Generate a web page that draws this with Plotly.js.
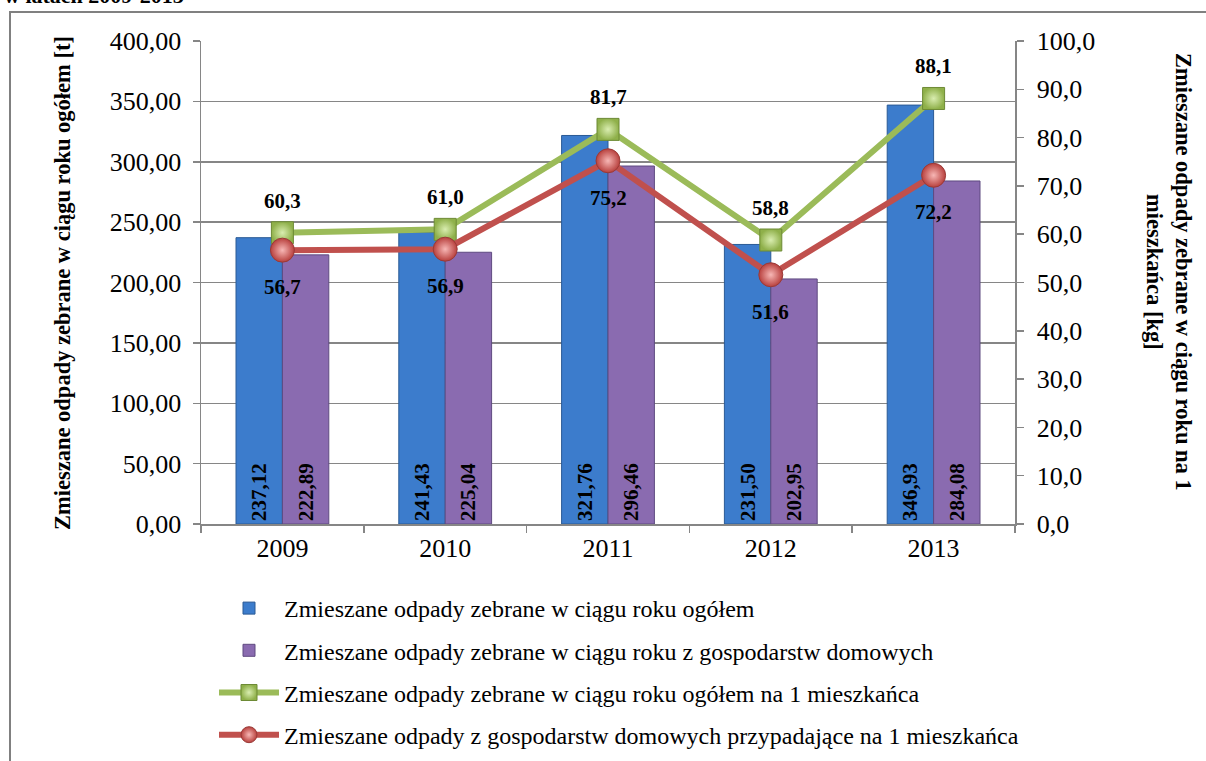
<!DOCTYPE html>
<html>
<head>
<meta charset="utf-8">
<script src="https://cdn.plot.ly/plotly-3.0.1.min.js"></script>
<style>html,body{margin:0;padding:0;background:#fff;}#chart{width:1206px;height:761px;}</style>
</head>
<body>
<div id="chart"></div>
<script>
const years = ['2009', '2010', '2011', '2012', '2013'];
const totalTonnes = [237.12, 241.43, 321.76, 231.50, 346.93];
const householdTonnes = [222.89, 225.04, 296.46, 202.95, 284.08];
const totalPerCapita = [60.3, 61.0, 81.7, 58.8, 88.1];
const householdPerCapita = [56.7, 56.9, 75.2, 51.6, 72.2];
const seriesNames = [
  'Zmieszane odpady zebrane w ciągu roku ogółem',
  'Zmieszane odpady zebrane w ciągu roku z gospodarstw domowych',
  'Zmieszane odpady zebrane w ciągu roku ogółem na 1 mieszkańca',
  'Zmieszane odpady z gospodarstw domowych przypadające na 1 mieszkańca'
];
const leftTitle = 'Zmieszane odpady zebrane w ciągu roku ogółem [t]';
const rightTitle = 'Zmieszane odpady zebrane w ciągu roku na 1<br>mieszkańca [kg]';
const cutTitle = 'w latach 2009-2013';

const FONT = "'Liberation Serif'";
const L = 201, R = 1015, T = 41, B = 524;
const W = 1206, H = 761;
const px2x = p => (p - L) / (R - L);
const px2y = p => (B - p) / (B - T);

const barText = {family: FONT, size: 21, color: '#000'};
const lblText = {family: FONT, size: 21, color: '#000'};
const fmt1 = v => v.toFixed(1).replace('.', ',');

const traces = [
  {
    type: 'bar', x: years, y: totalTonnes, name: seriesNames[0], legendgroup: 'a',
    marker: {color: '#3c7ccc', line: {color: '#2a5a95', width: 1}},
    texttemplate: '<b>%{y:.2f}</b>', textposition: 'inside', insidetextanchor: 'start',
    textangle: -90, constraintext: 'none', insidetextfont: barText, hoverinfo: 'skip'
  },
  {
    type: 'bar', x: years, y: householdTonnes, name: seriesNames[1], legendgroup: 'b',
    marker: {color: '#8a6bb0', line: {color: '#5f4a80', width: 1}},
    texttemplate: '<b>%{y:.2f}</b>', textposition: 'inside', insidetextanchor: 'start',
    textangle: -90, constraintext: 'none', insidetextfont: barText, hoverinfo: 'skip'
  },
  {
    type: 'scatter', mode: 'lines+markers', x: years, y: totalPerCapita, yaxis: 'y2',
    name: seriesNames[2], legendgroup: 'c',
    line: {color: '#9bbb59', width: 6},
    marker: {symbol: 'square', size: 22, color: '#8fb04a', line: {color: '#6d8a35', width: 1},
             gradient: {type: 'radial', color: '#d9edb0'}},
    hoverinfo: 'skip'
  },
  {
    type: 'scatter', mode: 'lines+markers', x: years, y: householdPerCapita, yaxis: 'y2',
    name: seriesNames[3], legendgroup: 'd',
    line: {color: '#c0504d', width: 6},
    marker: {symbol: 'circle', size: 24, color: '#b8403d', line: {color: '#9a3a37', width: 1},
             gradient: {type: 'radial', color: '#f7b7b5'}},
    hoverinfo: 'skip'
  }
];

const pointLabels = [];
years.forEach((yr, i) => {
  pointLabels.push({
    xref: 'x', yref: 'y2', x: i, y: totalPerCapita[i], yshift: 32,
    text: '<b>' + fmt1(totalPerCapita[i]) + '</b>', showarrow: false,
    xanchor: 'center', yanchor: 'middle', font: lblText
  });
  pointLabels.push({
    xref: 'x', yref: 'y2', x: i, y: householdPerCapita[i], yshift: -37,
    text: '<b>' + fmt1(householdPerCapita[i]) + '</b>', showarrow: false,
    xanchor: 'center', yanchor: 'middle', font: lblText
  });
});

const layout = {
  width: W, height: H,
  margin: {l: L, r: W - R, t: T, b: H - B, pad: 0, autoexpand: false},
  paper_bgcolor: '#fff', plot_bgcolor: '#fff',
  separators: ', ',
  font: {family: FONT, size: 26, color: '#000'},
  barmode: 'group', bargap: 0.43, bargroupgap: 0,
  showlegend: true,
  legend: {
    x: px2x(214), y: px2y(586), xanchor: 'left', yanchor: 'top',
    orientation: 'v', traceorder: 'grouped', tracegroupgap: 8,
    itemwidth: 60, font: {family: FONT, size: 24, color: '#000'},
    bgcolor: 'rgba(0,0,0,0)'
  },
  xaxis: {
    type: 'category', categoryorder: 'array', categoryarray: years,
    range: [-0.5, years.length - 0.5], autorange: false,
    showline: true, linecolor: '#868686', linewidth: 1.5,
    ticks: 'outside', tickson: 'boundaries', ticklen: 7, tickcolor: '#868686', tickwidth: 1.5,
    tickfont: {family: FONT, size: 26, color: '#000'}, tickangle: 0, showgrid: false, zeroline: false
  },
  yaxis: {
    range: [0, 400], dtick: 50, tickformat: '.2f',
    showline: true, linecolor: '#868686', linewidth: 1.5,
    ticks: 'outside', ticklen: 7, tickcolor: '#868686', tickwidth: 1.5,
    showgrid: true, gridcolor: '#868686', gridwidth: 1.5, zeroline: false,
    tickfont: {family: FONT, size: 26, color: '#000'}, ticklabelstandoff: 6
  },
  yaxis2: {
    range: [0, 100], dtick: 10, tickformat: '.1f', overlaying: 'y', side: 'right',
    showline: true, linecolor: '#868686', linewidth: 1.5,
    ticks: 'outside', ticklen: 7, tickcolor: '#868686', tickwidth: 1.5,
    showgrid: false, zeroline: false,
    tickfont: {family: FONT, size: 26, color: '#000'}, ticklabelstandoff: 8
  },
  annotations: pointLabels.concat([
    {
      xref: 'paper', yref: 'paper', x: px2x(62), y: px2y(283), xanchor: 'center', yanchor: 'middle',
      text: '<b>' + leftTitle + '</b>', textangle: -90, showarrow: false,
      font: {family: FONT, size: 22.5, color: '#000'}
    },
    {
      xref: 'paper', yref: 'paper', x: px2x(1169), y: px2y(272), xanchor: 'center', yanchor: 'middle',
      text: '<b>' + rightTitle + '</b>', textangle: 90, showarrow: false,
      font: {family: FONT, size: 22.5, color: '#000'}
    },
    {
      xref: 'paper', yref: 'paper', x: px2x(2), y: px2y(10), xanchor: 'left', yanchor: 'bottom',
      text: '<b>' + cutTitle + '</b>', showarrow: false,
      font: {family: FONT, size: 22, color: '#000'}
    }
  ]),
  shapes: [
    {
      type: 'rect', xref: 'paper', yref: 'paper', layer: 'below',
      x0: px2x(10), x1: px2x(1230), y0: px2y(800), y1: px2y(12),
      line: {color: '#808080', width: 2}, fillcolor: 'rgba(0,0,0,0)'
    }
  ]
};

Plotly.newPlot('chart', traces, layout, {staticPlot: true, displayModeBar: false});
</script>
</body>
</html>
